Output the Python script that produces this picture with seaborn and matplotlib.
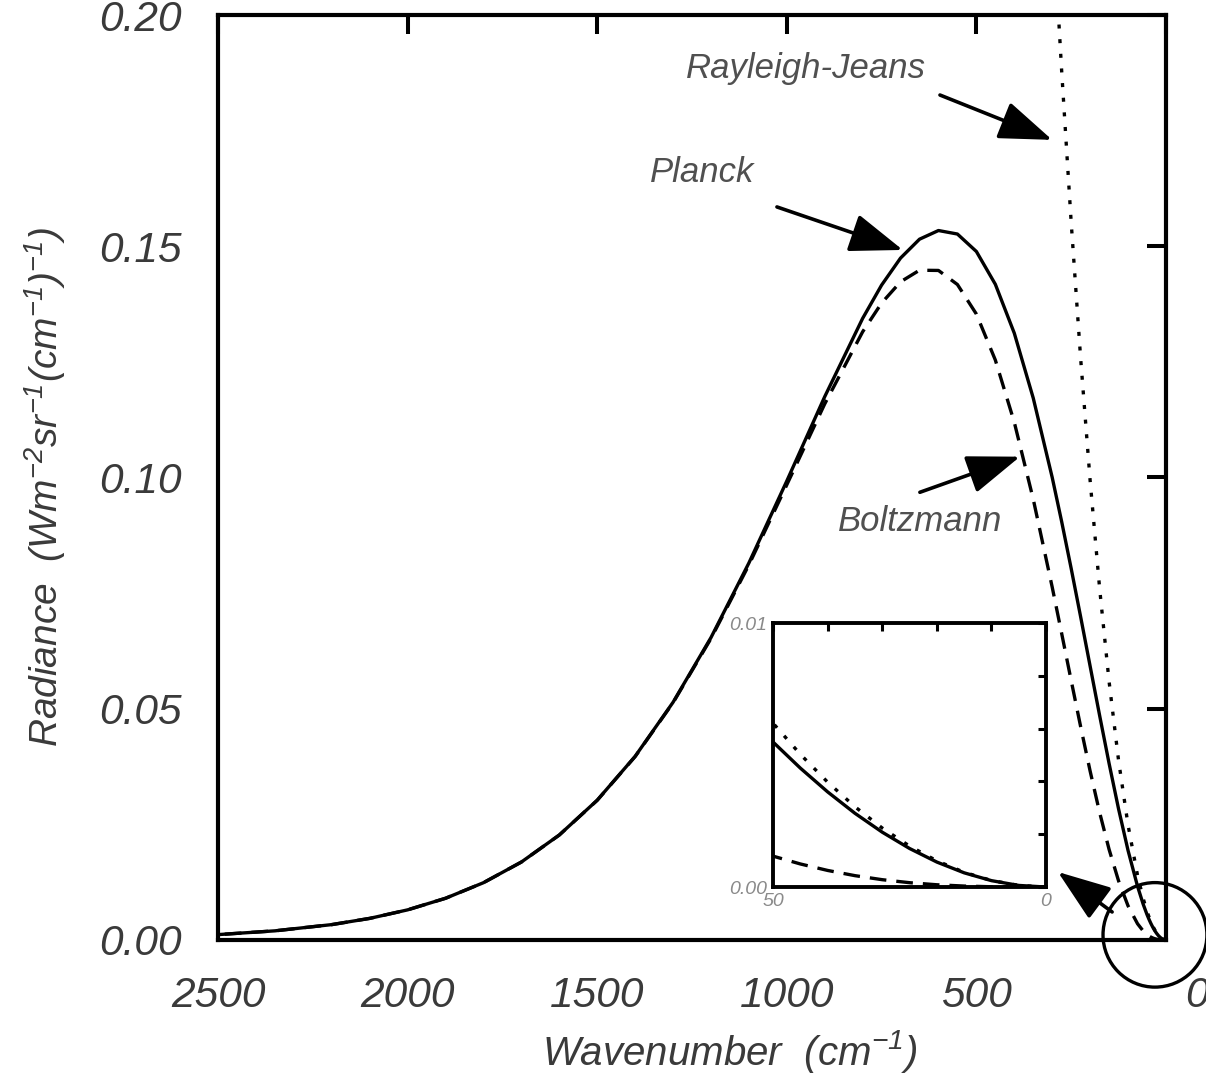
import matplotlib
matplotlib.use("Agg")
import matplotlib.pyplot as plt
from matplotlib.patches import Ellipse
import pandas as pd
import seaborn as sns

# Blackbody spectral radiance at 300 K, W m^-2 sr^-1 (cm^-1)^-1
wavenumber = [0, 5, 10, 15, 20, 25, 30, 35, 40, 45, 50, 60, 75, 100, 125, 150,
              175, 200, 225, 250, 275, 300, 350, 400, 450, 500, 550, 600, 650,
              700, 750, 800, 900, 1000, 1100, 1200, 1300, 1400, 1500, 1600,
              1700, 1800, 1900, 2000, 2100, 2200, 2350, 2500]
planck = [0.0, 6.134e-5, 2.4244e-4, 5.3892e-4, 9.4650e-4, 1.46097e-3,
          2.07814e-3, 2.79404e-3, 3.60455e-3, 4.50581e-3, 5.49393e-3,
          7.71567e-3, 0.0116073, 0.0193535, 0.0283278, 0.0381681, 0.0485522,
          0.0591981, 0.069860, 0.0803287, 0.0904268, 0.100008, 0.117166,
          0.131203, 0.141777, 0.148869, 0.152643, 0.153401, 0.151525,
          0.147444, 0.141596, 0.134398, 0.117471, 0.0992403, 0.0815090,
          0.0653787, 0.0513942, 0.0397014, 0.0302178, 0.0226955, 0.0168486,
          0.0123796, 0.0090122, 0.0065067, 0.0046627, 0.0033186, 0.0019700,
          0.0011552]
boltzmann = [0.0, 1.4535e-6, 1.13527e-5, 3.7408e-5, 8.6569e-5, 1.6507e-4,
             2.78486e-4, 4.31751e-4, 6.2921e-4, 8.7465e-4, 1.17137e-3,
             1.92934e-3, 3.50672e-3, 0.0073730, 0.0127733, 0.0195783,
             0.0275768, 0.0365131, 0.0461142, 0.0561093, 0.0662436, 0.0762847,
             0.0953000, 0.111936, 0.125397, 0.135336, 0.141727, 0.144769,
             0.144817, 0.142309, 0.137714, 0.131499, 0.115903, 0.0984202,
             0.0810920, 0.0651717, 0.0512940, 0.0396531, 0.0301951, 0.0226852,
             0.0168438, 0.0123774, 0.0090112, 0.0065063, 0.0046623, 0.0033185,
             0.0019699, 0.0011552]
rj_wavenumber = [0, 5, 10, 15, 20, 25, 30, 35, 40, 45, 50, 60, 75, 100, 125,
                 150, 175, 200, 225, 250, 275, 300]
rayleigh_jeans = [0.0, 6.209e-5, 2.4835e-4, 5.5878e-4, 9.9338e-4, 1.55216e-3,
                  2.23511e-3, 3.04224e-3, 3.97354e-3, 5.02901e-3, 6.20865e-3,
                  8.94046e-3, 0.0139695, 0.0248346, 0.0388041, 0.0558779,
                  0.0760560, 0.0993384, 0.125726, 0.155216, 0.187812, 0.223511]

x_ticks = [2500, 2000, 1500, 1000, 500, 0]
x_tick_labels = ["2500", "2000", "1500", "1000", "500", ""]
y_ticks = [0.00, 0.05, 0.10, 0.15, 0.20]
y_tick_labels = ["0.00", "0.05", "0.10", "0.15", "0.20"]
inset_x_ticks = [50, 40, 30, 20, 10, 0]
inset_x_labels = ["50", "", "", "", "", "0"]
inset_y_ticks = [0.0, 0.002, 0.004, 0.006, 0.008, 0.01]
inset_y_labels = ["0.00", "", "", "", "", "0.01"]

sns.set_theme(style="white")
plt.rcParams["font.family"] = ["Liberation Sans", "DejaVu Sans"]
plt.rcParams["mathtext.fontset"] = "custom"
plt.rcParams["mathtext.rm"] = "Liberation Sans:italic"
plt.rcParams["mathtext.it"] = "Liberation Sans:italic"
plt.rcParams["mathtext.sf"] = "Liberation Sans:italic"

TICK_GREY = "#3a3a3a"
TEXT_GREY = "#505050"

df_planck = pd.DataFrame({"wavenumber": wavenumber, "radiance": planck})
df_boltz = pd.DataFrame({"wavenumber": wavenumber, "radiance": boltzmann})
df_rj = pd.DataFrame({"wavenumber": rj_wavenumber, "radiance": rayleigh_jeans})

fig = plt.figure(figsize=(12.06, 10.73), dpi=100)
ax = fig.add_axes([0.1808, 0.124, 0.786, 0.862])


def draw_curves(axis, lw):
    sns.lineplot(data=df_planck, x="wavenumber", y="radiance", ax=axis,
                 color="black", lw=lw, estimator=None, sort=False)
    sns.lineplot(data=df_boltz, x="wavenumber", y="radiance", ax=axis,
                 color="black", lw=lw, estimator=None, sort=False)
    axis.lines[-1].set_linestyle((0, (5, 3)))
    sns.lineplot(data=df_rj, x="wavenumber", y="radiance", ax=axis,
                 color="black", lw=lw, estimator=None, sort=False)
    axis.lines[-1].set_linestyle((0, (1.2, 3.2)))


draw_curves(ax, 2.4)
ax.set_xlim(2500, 0)
ax.set_ylim(0, 0.20)
ax.set_xticks(x_ticks)
ax.set_xticklabels(x_tick_labels)
ax.set_yticks(y_ticks)
ax.set_yticklabels(y_tick_labels)
ax.tick_params(direction="in", length=13.5, width=2.9, top=True, right=True,
               labelsize=30.5, pad=26, labelcolor=TICK_GREY, color="black")
for lbl in ax.get_xticklabels() + ax.get_yticklabels():
    lbl.set_fontstyle("italic")
for sp in ax.spines.values():
    sp.set_linewidth(3)
    sp.set_color("black")

ax.set_xlabel("Wavenumber  (cm$^{-1}$)", fontsize=29, fontstyle="italic",
              color=TICK_GREY)
ax.set_ylabel("Radiance  (Wm$^{-2}$sr$^{-1}$(cm$^{-1}$)$^{-1}$)", fontsize=28,
              fontstyle="italic", color=TICK_GREY)
ax.xaxis.set_label_coords(0.54, -0.095)
ax.yaxis.set_label_coords(-0.158, 0.49)

# label for the zero end of the wavenumber axis
ax.annotate("0", xy=(0, 0), xycoords=("data", "axes fraction"),
            xytext=(22, -26), textcoords="offset points", ha="center",
            va="top", fontsize=30.5, fontstyle="italic", color=TICK_GREY,
            annotation_clip=False)

arrow_kw = dict(arrowstyle="-|>,head_length=0.55,head_width=0.2",
                mutation_scale=60, lw=2.6, color="black",
                shrinkA=0, shrinkB=0)

ax.text(949, 0.1885, "Rayleigh-Jeans", fontsize=25, fontstyle="italic",
        color=TEXT_GREY, ha="center", va="center")
ax.annotate("", xy=(300, 0.173), xytext=(596, 0.1827), arrowprops=arrow_kw)

ax.text(1224, 0.166, "Planck", fontsize=25, fontstyle="italic",
        color=TEXT_GREY, ha="center", va="center")
ax.annotate("", xy=(694, 0.1492), xytext=(1026, 0.1585), arrowprops=arrow_kw)

ax.text(649, 0.0904, "Boltzmann", fontsize=25, fontstyle="italic",
        color=TEXT_GREY, ha="center", va="center")
ax.annotate("", xy=(385, 0.1045), xytext=(649, 0.0968), arrowprops=arrow_kw)

# circled low-wavenumber region, expanded in the inset
ax.add_patch(Ellipse((29, 0.0011), width=274, height=0.0226, fill=False,
                     lw=2.4, color="black", clip_on=False))
ax.annotate("", xy=(285, 0.0147), xytext=(142, 0.00605), arrowprops=arrow_kw)

ax_in = fig.add_axes([0.641, 0.1733, 0.2264, 0.246])
ax_in.set_facecolor("white")
draw_curves(ax_in, 2.4)
ax_in.set_xlim(50, 0)
ax_in.set_ylim(0, 0.01)
ax_in.set_xticks(inset_x_ticks)
ax_in.set_xticklabels(inset_x_labels)
ax_in.set_yticks(inset_y_ticks)
ax_in.set_yticklabels(inset_y_labels)
ax_in.tick_params(direction="in", length=6, width=2.2, top=True, right=True,
                  labelsize=14, pad=4, labelcolor="#8a8a8a", color="black")
for lbl in ax_in.get_xticklabels() + ax_in.get_yticklabels():
    lbl.set_fontstyle("italic")
for sp in ax_in.spines.values():
    sp.set_linewidth(2.8)
    sp.set_color("black")
ax_in.set_xlabel("")
ax_in.set_ylabel("")

fig.savefig("out.png", dpi=100, facecolor="white")
